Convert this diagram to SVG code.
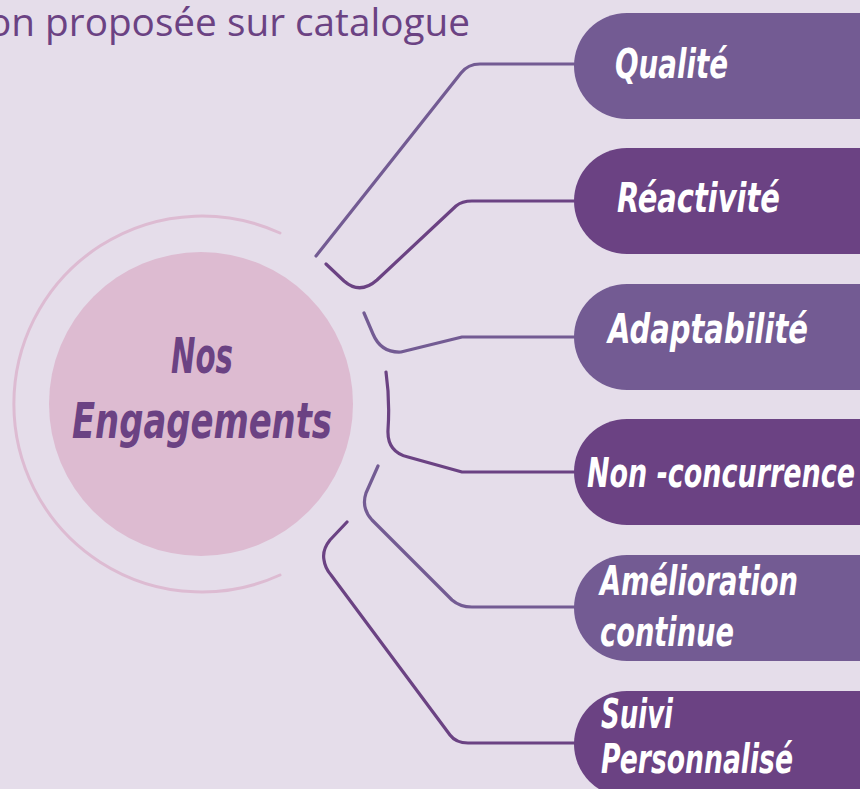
<svg xmlns="http://www.w3.org/2000/svg" width="860" height="789" viewBox="0 0 860 789">
<style>
.bg{fill:#E5DDEA}
.pill-a{fill:#735B93}
.pill-b{fill:#6B4283}
.lbl{font-family:"DejaVu Sans Condensed","DejaVu Sans",sans-serif;font-weight:700;font-style:italic;font-size:41px;fill:#FFFFFF}
.ctr{font-family:"DejaVu Sans Condensed","DejaVu Sans",sans-serif;font-weight:700;font-style:italic;font-size:49px;fill:#6B4283}
.top{font-family:"Open Sans","Liberation Sans",sans-serif;font-size:39px;fill:#6B4283}
.c-a{fill:none;stroke:#735B93;stroke-width:3.2;stroke-linecap:round;stroke-linejoin:round}
.c-b{fill:none;stroke:#6B4283;stroke-width:3.2;stroke-linecap:round;stroke-linejoin:round}
</style>
<rect class="bg" x="0" y="0" width="860" height="789"/>
<text class="top" x="-12" y="36" textLength="482" lengthAdjust="spacingAndGlyphs">on proposée sur catalogue</text>
<g id="center">
<path d="M280,233 A188,188 0 1 0 280,575" fill="none" stroke="#DDBBD2" stroke-width="3" stroke-linecap="round"/>
<circle cx="201" cy="404" r="152" fill="#DDBBD1"/>
<text class="ctr" x="202" y="373" text-anchor="middle" textLength="62" lengthAdjust="spacingAndGlyphs">Nos</text>
<text class="ctr" x="202" y="438" text-anchor="middle" textLength="260" lengthAdjust="spacingAndGlyphs">Engagements</text>
</g>
<g id="connectors">
<path class="c-a" d="M316,256 L461,73 Q468,64 480,64 L574,64"/>
<path class="c-b" d="M326,264 L344,281 Q360,295 377,280 L456,206 Q462,201 472,201 L574,201"/>
<path class="c-a" d="M364,313 L373,334 Q381,353 401,352 L462,337 L574,337"/>
<path class="c-b" d="M386,372 Q390,400 388,430 Q387,452 408,457 L462,472 L574,472"/>
<path class="c-a" d="M378,466 L366,493 Q361,508 372,520 L452,600 Q460,607 472,607 L574,607"/>
<path class="c-b" d="M347,522 L330,540 Q322,550 324,560 Q325,568 331,575 L450,735 Q456,743 468,743 L574,743"/>
</g>
<g id="n-qualite">
<rect class="pill-a" x="574" y="13" width="340" height="106" rx="53"/>
<text class="lbl" x="615" y="78" textLength="113" lengthAdjust="spacingAndGlyphs">Qualité</text>
</g>
<g id="n-reactivite">
<rect class="pill-b" x="574" y="148" width="340" height="106" rx="53"/>
<text class="lbl" x="617" y="212" textLength="163" lengthAdjust="spacingAndGlyphs">Réactivité</text>
</g>
<g id="n-adaptabilite">
<rect class="pill-a" x="574" y="284" width="340" height="106" rx="53"/>
<text class="lbl" x="608" y="343" textLength="200" lengthAdjust="spacingAndGlyphs">Adaptabilité</text>
</g>
<g id="n-nonconcurrence">
<rect class="pill-b" x="574" y="419" width="340" height="106" rx="53"/>
<text class="lbl" x="587" y="487" textLength="268" lengthAdjust="spacingAndGlyphs">Non -concurrence</text>
</g>
<g id="n-amelioration">
<rect class="pill-a" x="574" y="555" width="340" height="106" rx="53"/>
<text class="lbl" x="600" y="595" textLength="198" lengthAdjust="spacingAndGlyphs">Amélioration</text>
<text class="lbl" x="600" y="646" textLength="134" lengthAdjust="spacingAndGlyphs">continue</text>
</g>
<g id="n-suivi">
<rect class="pill-b" x="574" y="691" width="340" height="106" rx="53"/>
<text class="lbl" x="601" y="728" textLength="72" lengthAdjust="spacingAndGlyphs">Suivi</text>
<text class="lbl" x="601" y="773" textLength="192" lengthAdjust="spacingAndGlyphs">Personnalisé</text>
</g>
</svg>
